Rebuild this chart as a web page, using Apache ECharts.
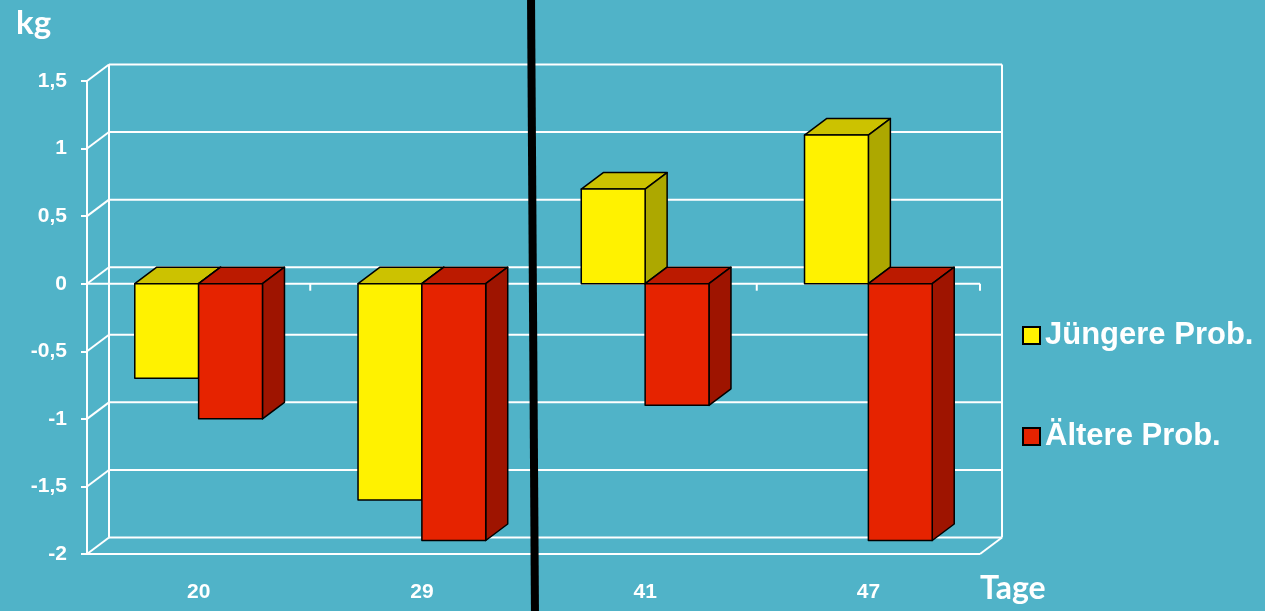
<!DOCTYPE html>
<html>
<head>
<meta charset="utf-8">
<script src="https://cdn.jsdelivr.net/npm/echarts@6/dist/echarts.min.js"></script>
<style>
html,body{margin:0;padding:0;background:#50B3C8;}
#c{width:1265px;height:611px;}
</style>
</head>
<body>
<div id="c"></div>
<script>
// ---- data ----
const categories = ['20', '29', '41', '47'];
const youngerValues = [-0.7, -1.6, 0.7, 1.1];
const olderValues = [-1.0, -1.9, -0.9, -1.9];
const yTicks = [-2, -1.5, -1, -0.5, 0, 0.5, 1, 1.5];
const seriesNames = ['Jüngere Prob.', 'Ältere Prob.'];

// ---- style ----
const DX = 22, DY = -16.5;
const BAR_FRAC = 0.286;
const palette = [
  {front: '#FFF200', top: '#CCC200', side: '#ADA800'},
  {front: '#E62300', top: '#BB1A00', side: '#9E1400'}
];
const WHITE = '#FFFFFF';

const chart = echarts.init(document.getElementById('c'), null, {renderer: 'canvas'});

function frameRender(params, api) {
  const cs = params.coordSys;
  const v = api.value(0);
  const y = api.coord([0, v])[1];
  const left = cs.x, right = cs.x + cs.width, top = cs.y, bottom = cs.y + cs.height;
  const ls = {stroke: WHITE, lineWidth: 2};
  const ch = [];
  ch.push({type: 'line', shape: {x1: left + DX, y1: y + DY, x2: right + DX, y2: y + DY}, style: ls});
  ch.push({type: 'line', shape: {x1: left, y1: y, x2: left + DX, y2: y + DY}, style: ls});
  if (params.dataIndex === 0) {
    ch.push({type: 'line', shape: {x1: left + DX, y1: top + DY, x2: left + DX, y2: bottom + DY}, style: ls});
    ch.push({type: 'line', shape: {x1: right + DX, y1: top + DY, x2: right + DX, y2: bottom + DY}, style: ls});
    ch.push({type: 'line', shape: {x1: left, y1: bottom, x2: right, y2: bottom}, style: ls});
    ch.push({type: 'line', shape: {x1: right, y1: bottom, x2: right + DX, y2: bottom + DY}, style: ls});
  }
  if (v === 0) {
    ch.push({type: 'line', shape: {x1: left, y1: y, x2: right, y2: y}, style: ls});
    const bw = api.size([1, 0])[0];
    for (let i = 0; i < categories.length; i++) {
      const bx = api.coord([i, 0])[0] + bw / 2;
      ch.push({type: 'line', shape: {x1: bx, y1: y, x2: bx, y2: y + 7}, style: ls});
    }
  }
  return {type: 'group', children: ch};
}

function makeBarRender(si) {
  return function (params, api) {
    const idx = api.value(0), val = api.value(1);
    const c = api.coord([idx, 0]);
    const yv = api.coord([idx, val])[1];
    const y0 = c[1];
    const bw = api.size([1, 0])[0];
    const w = bw * BAR_FRAC;
    const x0 = si === 0 ? c[0] - w : c[0];
    const x1 = x0 + w;
    const yt = Math.min(y0, yv), yb = Math.max(y0, yv);
    const col = palette[si];
    const st = {stroke: '#000', lineWidth: 1.5, lineJoin: 'round'};
    return {
      type: 'group',
      children: [
        {type: 'polygon', shape: {points: [[x0, yt], [x1, yt], [x1 + DX, yt + DY], [x0 + DX, yt + DY]]},
          style: Object.assign({fill: col.top}, st)},
        {type: 'polygon', shape: {points: [[x1, yt], [x1 + DX, yt + DY], [x1 + DX, yb + DY], [x1, yb]]},
          style: Object.assign({fill: col.side}, st)},
        {type: 'rect', shape: {x: x0, y: yt, width: w, height: yb - yt},
          style: Object.assign({fill: col.front}, st)}
      ]
    };
  };
}

const option = {
  backgroundColor: '#50B3C8',
  animation: false,
  title: [
    {text: 'kg', left: 11, top: 2,
      textStyle: {color: WHITE, fontFamily: 'Lato', fontWeight: 'bold', fontSize: 33}},
    {text: 'Tage', left: 975, top: 568,
      textStyle: {color: WHITE, fontFamily: 'Lato', fontWeight: 'bold', fontSize: 32}}
  ],
  legend: {
    orient: 'vertical',
    left: 1022,
    top: 320,
    padding: 0,
    itemWidth: 17,
    itemHeight: 17,
    itemGap: 70,
    icon: 'rect',
    textStyle: {color: WHITE, fontFamily: 'Liberation Sans', fontWeight: 'bold', fontSize: 31, padding: [3, 0, 0, 0]},
    data: seriesNames.map((n, i) => ({name: n, itemStyle: {color: palette[i].front, borderColor: '#000', borderWidth: 2}}))
  },
  grid: {left: 87, right: 285, top: 81, bottom: 57, containLabel: false},
  xAxis: {
    type: 'category',
    data: categories,
    axisLine: {show: false},
    axisTick: {show: false},
    splitLine: {show: false},
    axisLabel: {color: WHITE, fontFamily: 'Liberation Sans', fontWeight: 'bold', fontSize: 21, margin: 28}
  },
  yAxis: {
    type: 'value',
    min: -2, max: 1.5, interval: 0.5,
    axisLine: {show: true, lineStyle: {color: WHITE, width: 2}},
    axisTick: {show: true, length: 6, lineStyle: {color: WHITE, width: 2}},
    splitLine: {show: false},
    axisLabel: {
      color: WHITE, fontFamily: 'Liberation Sans', fontWeight: 'bold', fontSize: 21, margin: 20,
      formatter: v => String(v).replace('.', ',')
    }
  },
  series: [
    {
      type: 'custom', name: '_frame', silent: true, z: 1,
      renderItem: frameRender,
      data: yTicks.map(v => [v]),
      encode: {y: 0}
    },
    {
      type: 'custom', name: seriesNames[0], z: 2,
      itemStyle: {color: palette[0].front},
      renderItem: makeBarRender(0),
      data: youngerValues.map((v, i) => [i, v]),
      encode: {x: 0, y: 1}
    },
    {
      type: 'custom', name: seriesNames[1], z: 3,
      itemStyle: {color: palette[1].front},
      renderItem: makeBarRender(1),
      data: olderValues.map((v, i) => [i, v]),
      encode: {x: 0, y: 1}
    }
  ],
  graphic: [
    {type: 'line', z: 100, shape: {x1: 531, y1: -5, x2: 535, y2: 616}, style: {stroke: '#000', lineWidth: 8}}
  ]
};
chart.setOption(option);
</script>
</body>
</html>
